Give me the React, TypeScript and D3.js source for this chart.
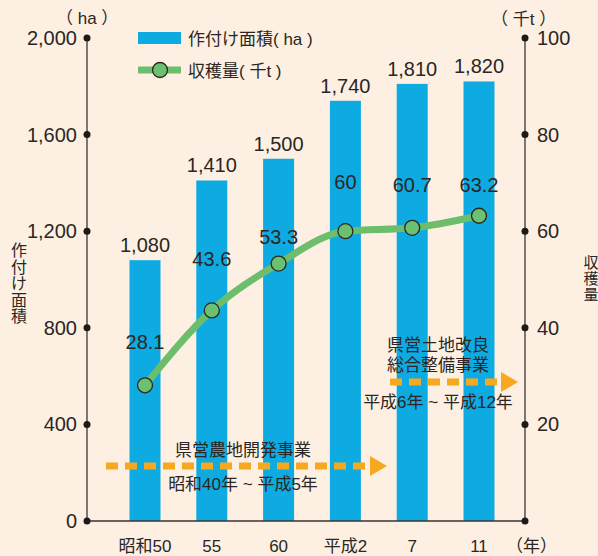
import * as d3 from "d3";
import React, { useEffect, useRef } from "react";

const years = ["昭和50", "55", "60", "平成2", "7", "11"];
const areaHa = [1080, 1410, 1500, 1740, 1810, 1820];
const harvestKt = [28.1, 43.6, 53.3, 60, 60.7, 63.2];
const leftTicks = [0, 400, 800, 1200, 1600, 2000];
const rightTicks = [20, 40, 60, 80, 100];
// how far above each point its label sits (the source nudges them by hand)
const harvestLabelLift = [36, 44, 20, 42, 36, 24];

const W = 598, H = 556;
const FONT = "'Liberation Sans', 'Noto Sans CJK JP', sans-serif";
const INK = "#2b2623";

export default function App() {
  const ref = useRef<SVGSVGElement>(null);

  useEffect(() => {
    document.body.style.margin = "0";
    const svg = d3.select(ref.current);
    svg.selectAll("*").remove();

    const x = d3.scalePoint<string>().domain(years).range([145, 479]);
    const yL = d3.scaleLinear().domain([0, 2000]).range([521, 38]);
    const yR = d3.scaleLinear().domain([0, 100]).range([521, 38]);
    const barW = 31;

    svg.append("rect").attr("width", W).attr("height", H).attr("fill", "#fdf0e2");

    // bars
    svg.selectAll("rect.bar")
      .data(areaHa)
      .join("rect")
      .attr("class", "bar")
      .attr("x", (d, i) => x(years[i])! - barW / 2)
      .attr("width", barW)
      .attr("y", d => yL(d))
      .attr("height", d => yL(0) - yL(d))
      .attr("fill", "#0eaae2");

    svg.selectAll("text.barlab")
      .data(areaHa)
      .join("text")
      .attr("x", (d, i) => x(years[i])!)
      .attr("y", d => yL(d) - 8)
      .attr("text-anchor", "middle")
      .attr("font-family", FONT)
      .attr("font-size", 20)
      .attr("fill", INK)
      .text(d => d3.format(",")(d));

    // axes
    const ax = svg.append("g").attr("stroke", "#3a3330").attr("stroke-width", 1.3);
    ax.append("line").attr("x1", 87).attr("x2", 87).attr("y1", yL(2000)).attr("y2", yL(0));
    ax.append("line").attr("x1", 525).attr("x2", 525).attr("y1", yR(100)).attr("y2", yR(0));
    ax.append("line").attr("x1", 87).attr("x2", 525).attr("y1", yL(0)).attr("y2", yL(0));

    svg.selectAll("circle.lt")
      .data(leftTicks)
      .join("circle")
      .attr("class", "lt")
      .attr("cx", 87).attr("cy", d => yL(d)).attr("r", 3.5).attr("fill", "#1e1a18");
    svg.selectAll("text.lt")
      .data(leftTicks)
      .join("text")
      .attr("class", "lt")
      .attr("x", 77).attr("y", d => yL(d) + 7)
      .attr("text-anchor", "end")
      .attr("font-family", FONT).attr("font-size", 20).attr("fill", INK)
      .text(d => d3.format(",")(d));

    svg.selectAll("circle.rt")
      .data([0, ...rightTicks])
      .join("circle")
      .attr("class", "rt")
      .attr("cx", 525).attr("cy", d => yR(d)).attr("r", 3.5).attr("fill", "#1e1a18");
    svg.selectAll("text.rt")
      .data(rightTicks)
      .join("text")
      .attr("class", "rt")
      .attr("x", 537).attr("y", d => yR(d) + 7)
      .attr("font-family", FONT).attr("font-size", 20).attr("fill", INK)
      .text(d => String(d));

    // x labels
    svg.selectAll("text.xl")
      .data(years)
      .join("text")
      .attr("class", "xl")
      .attr("x", d => x(d)!).attr("y", 552)
      .attr("text-anchor", "middle")
      .attr("font-family", FONT).attr("font-size", 17).attr("fill", INK)
      .text(d => d);

    const txt = (s: string, tx: number, ty: number, size: number, anchor = "start") =>
      svg.append("text").attr("x", tx).attr("y", ty).attr("text-anchor", anchor)
        .attr("font-family", FONT).attr("font-size", size).attr("fill", INK).text(s);

    txt("（年）", 506, 552, 17);
    txt("（ ha ）", 56, 24, 17);
    txt("（ 千t ）", 491, 25, 17);

    "作付け面積".split("").forEach((c, i) => txt(c, 19, 256 + i * 16.5, 16, "middle"));
    "収穫量".split("").forEach((c, i) => txt(c, 591, 268 + i * 16, 15, "middle"));

    // harvest line
    const line = d3.line<number>()
      .x((d, i) => x(years[i])!)
      .y(d => yR(d))
      .curve(d3.curveMonotoneX);
    svg.append("path")
      .datum(harvestKt)
      .attr("d", line)
      .attr("fill", "none")
      .attr("stroke", "#6cbd6c")
      .attr("stroke-width", 7);
    svg.selectAll("circle.pt")
      .data(harvestKt)
      .join("circle")
      .attr("class", "pt")
      .attr("cx", (d, i) => x(years[i])!)
      .attr("cy", d => yR(d))
      .attr("r", 7.5)
      .attr("fill", "#6cc071")
      .attr("stroke", "#2b2a22")
      .attr("stroke-width", 1.3);
    svg.selectAll("text.pl")
      .data(harvestKt)
      .join("text")
      .attr("class", "pl")
      .attr("x", (d, i) => x(years[i])!)
      .attr("y", (d, i) => yR(d) - harvestLabelLift[i])
      .attr("text-anchor", "middle")
      .attr("font-family", FONT).attr("font-size", 20).attr("fill", INK)
      .text(d => String(d));

    // legend
    svg.append("rect").attr("x", 138).attr("y", 32).attr("width", 43).attr("height", 12).attr("fill", "#0eaae2");
    txt("作付け面積( ha )", 188, 45, 17);
    svg.append("line").attr("x1", 138).attr("x2", 181).attr("y1", 70).attr("y2", 70)
      .attr("stroke", "#6cbd6c").attr("stroke-width", 7);
    svg.append("circle").attr("cx", 160).attr("cy", 70).attr("r", 7.5)
      .attr("fill", "#6cc071").attr("stroke", "#2b2a22").attr("stroke-width", 1.3);
    txt("収穫量( 千t )", 188, 77, 17);

    // project arrows
    const arrow = (x0: number, x1: number, ay: number) => {
      svg.append("line").attr("x1", x0).attr("x2", x1 - 17).attr("y1", ay).attr("y2", ay)
        .attr("stroke", "#f6a81f").attr("stroke-width", 7).attr("stroke-dasharray", "12,7");
      svg.append("path")
        .attr("d", `M${x1 - 17},${ay - 10}L${x1},${ay}L${x1 - 17},${ay + 10}Z`)
        .attr("fill", "#f6a81f");
    };
    arrow(106, 387, 466);
    txt("県営農地開発事業", 243, 456, 17, "middle");
    txt("昭和40年 ~ 平成5年", 243, 490, 17, "middle");

    arrow(390, 518, 382);
    txt("県営土地改良", 438, 351, 17, "middle");
    txt("総合整備事業", 438, 371, 17, "middle");
    txt("平成6年 ~ 平成12年", 438, 408, 17, "middle");
  }, []);

  return <svg ref={ref} width={W} height={H} style={{ display: "block" }} />;
}
